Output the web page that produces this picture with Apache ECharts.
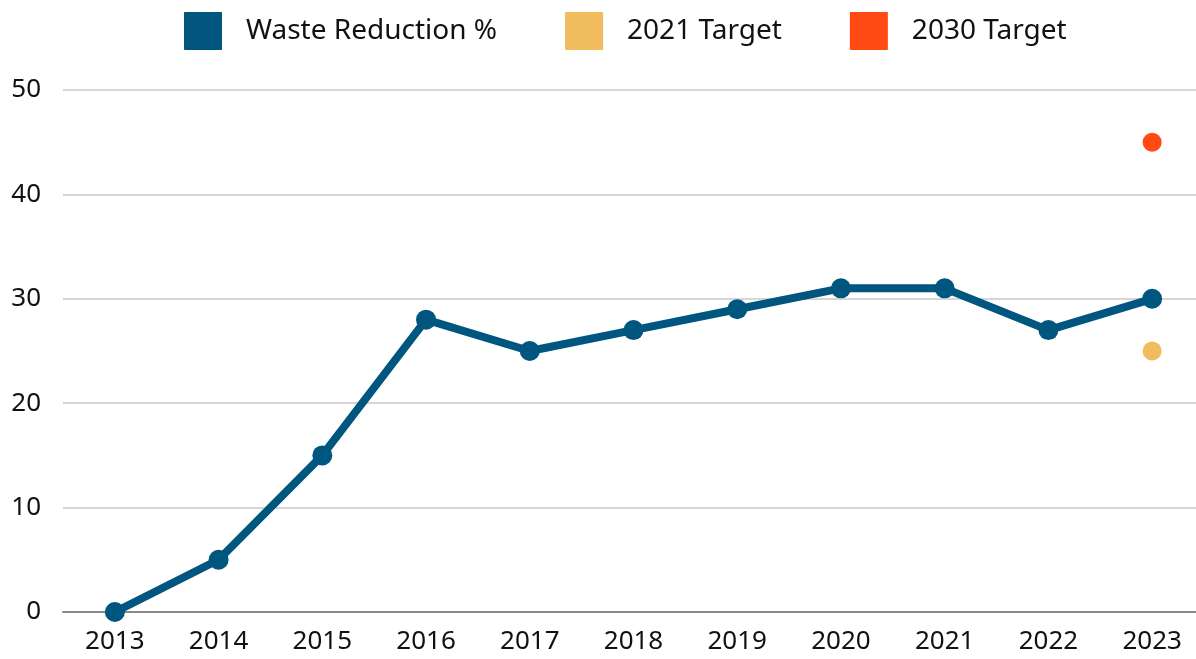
<!DOCTYPE html>
<html>
<head>
<meta charset="utf-8">
<script src="https://cdn.jsdelivr.net/npm/echarts@6/dist/echarts.min.js"></script>
<style>
  html, body { margin: 0; padding: 0; background: #fff; }
  #chart { width: 1196px; height: 659px; }
</style>
</head>
<body>
<div id="chart"></div>
<script>
// Years on the x axis
const years = ['2013', '2014', '2015', '2016', '2017', '2018', '2019', '2020', '2021', '2022', '2023'];
// Waste reduction achieved each year, in percent
const wasteReduction = [0, 5, 15, 28, 25, 27, 29, 31, 31, 27, 30];
// Targets, shown against the latest year
const target2021 = [['2023', 25]];
const target2030 = [['2023', 45]];

const font = 'Noto Sans, Lato, sans-serif';
// Square legend marker with slightly softened corners
const squareIcon = 'path://M2,0 L98,0 Q100,0 100,2 L100,98 Q100,100 98,100 L2,100 Q0,100 0,98 L0,2 Q0,0 2,0 Z';

const chart = echarts.init(document.getElementById('chart'));
chart.setOption({
  animation: false,
  backgroundColor: '#fff',
  legend: {
    top: 12,
    left: 184,
    padding: 0,
    itemWidth: 38,
    itemHeight: 38,
    itemGap: 68,
    icon: squareIcon,
    textStyle: { fontFamily: font, fontSize: 28, color: '#111', padding: [0, 0, 0, 19] },
    data: ['Waste Reduction %', '2021 Target', '2030 Target']
  },
  grid: { left: 63, right: -8, top: 90, bottom: 47, outerBoundsMode: 'none' },
  xAxis: {
    type: 'category',
    data: years,
    boundaryGap: true,
    axisLine: { lineStyle: { color: '#888', width: 2 } },
    axisTick: { show: false },
    axisLabel: { fontFamily: font, fontSize: 26, color: '#111', margin: 17 }
  },
  yAxis: {
    type: 'value',
    min: 0,
    max: 50,
    interval: 10,
    axisLine: { show: false },
    axisTick: { show: false },
    splitLine: { lineStyle: { color: '#c8c8c8', width: 1.5 } },
    axisLabel: { fontFamily: font, fontSize: 26, color: '#111', margin: 22 }
  },
  series: [
    {
      name: 'Waste Reduction %',
      type: 'line',
      data: wasteReduction,
      color: '#01567f',
      lineStyle: { width: 8 },
      symbol: 'circle',
      symbolSize: 20
    },
    {
      name: '2021 Target',
      type: 'scatter',
      data: target2021,
      color: '#f0bc5e',
      itemStyle: { opacity: 1 },
      symbolSize: 19
    },
    {
      name: '2030 Target',
      type: 'scatter',
      data: target2030,
      color: '#ff4a14',
      itemStyle: { opacity: 1 },
      symbolSize: 19
    }
  ]
});
</script>
</body>
</html>
